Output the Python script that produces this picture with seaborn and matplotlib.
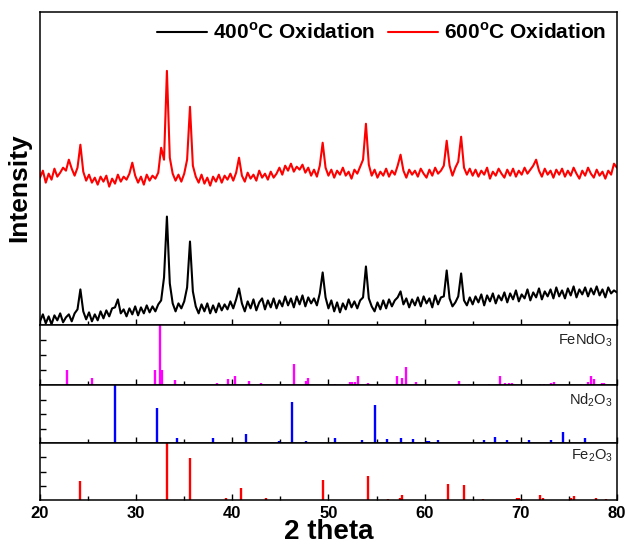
import numpy as np
import matplotlib
matplotlib.use('Agg')
import matplotlib.pyplot as plt
import seaborn as sns

# 2 theta grid of the scans, 20..80 in 0.3 deg steps
two_theta = np.round(np.arange(20, 80.01, 0.3), 2)

# 400C oxidation trace
int_400 = [4, 11, 2, 9, 1, 10, 5, 12, 3, 8,
           11, 4, 12, 16, 36, 14, 6, 13, 4, 11,
           5, 14, 7, 15, 9, 17, 18, 26, 12, 16,
           9, 17, 11, 19, 10, 18, 12, 20, 13, 19,
           14, 21, 25, 48, 109, 42, 22, 14, 22, 17,
           24, 38, 84, 34, 19, 12, 21, 14, 22, 12,
           20, 13, 22, 15, 21, 16, 24, 17, 26, 37,
           22, 14, 24, 17, 26, 15, 23, 27, 16, 25,
           18, 27, 17, 25, 19, 29, 20, 27, 18, 29,
           21, 30, 19, 28, 22, 27, 20, 32, 53, 28,
           17, 25, 14, 23, 13, 22, 16, 26, 18, 24,
           17, 25, 28, 59, 27, 19, 14, 23, 16, 25,
           17, 26, 19, 25, 28, 34, 21, 27, 18, 26,
           20, 28, 19, 29, 22, 27, 18, 30, 21, 28,
           29, 55, 27, 19, 23, 29, 52, 25, 20, 28,
           21, 29, 23, 31, 20, 30, 24, 32, 22, 30,
           25, 33, 23, 32, 26, 35, 24, 31, 27, 36,
           25, 33, 28, 37, 26, 34, 29, 36, 27, 38,
           29, 35, 27, 37, 30, 39, 28, 36, 31, 38,
           29, 37, 31, 39, 30, 36, 28, 38, 32, 35,
           33]

# 600C oxidation trace (already offset upwards like in the figure)
int_600 = [148, 155, 143, 152, 146, 157, 149, 153, 158, 155,
           166, 157, 150, 158, 181, 154, 145, 151, 143, 148,
           141, 149, 144, 150, 139, 147, 142, 151, 144, 149,
           146, 152, 163, 150, 143, 149, 141, 151, 145, 150,
           147, 153, 178, 166, 255, 168, 152, 145, 151, 144,
           152, 166, 219, 160, 149, 143, 151, 142, 148, 140,
           149, 144, 151, 143, 150, 146, 152, 145, 153, 168,
           150, 144, 153, 147, 151, 145, 155, 148, 152, 146,
           154, 148, 152, 158, 151, 160, 155, 162, 154, 159,
           156, 161, 153, 158, 150, 156, 149, 160, 183, 158,
           150, 156, 148, 155, 151, 158, 150, 154, 147, 156,
           152, 159, 166, 202, 161, 150, 156, 148, 154, 150,
           157, 149, 155, 151, 160, 171, 155, 148, 156, 151,
           155, 149, 157, 152, 148, 156, 150, 158, 152, 155,
           160, 185, 160, 150, 158, 164, 189, 158, 151, 157,
           150, 156, 149, 155, 151, 158, 147, 154, 150, 157,
           152, 148, 156, 150, 157, 149, 155, 151, 158, 152,
           156, 160, 166, 155, 149, 157, 151, 155, 148, 156,
           151, 157, 149, 155, 150, 158, 152, 147, 155, 150,
           158, 152, 148, 156, 150, 154, 147, 155, 151, 162,
           158]

# reference patterns (position, relative intensity)
fendo3_pos = [22.83, 25.45, 31.97, 32.45, 32.73, 34.0, 38.45, 39.6, 40.3, 41.7, 43.0,
              46.4, 47.7, 47.86, 50.7, 52.2, 52.5, 52.76, 53.1, 54.1, 57.17, 57.6, 58.1,
              59.07, 63.6, 64.66, 66.7, 67.8, 68.4, 68.8, 69.1, 72.0, 72.4, 73.2, 73.5,
              76.3, 76.97, 77.3, 77.6, 78.5, 78.7]
fendo3_int = [25, 12.6, 25, 100, 25, 8.8, 3, 10.5, 14.6, 7, 3,
              35.6, 7, 12.6, 1.5, 5, 5, 5, 14.6, 3, 16, 12.6, 31,
              5, 7, 1.5, 2, 14.6, 3, 3, 3, 2, 2, 3, 5,
              2, 5, 14.6, 10.5, 3, 3]

nd2o3_pos = [27.85, 32.2, 34.25, 37.98, 41.45, 44.85, 46.25, 47.7, 50.65, 53.45, 54.8,
             56.1, 57.5, 58.8, 60.2, 60.45, 61.4, 66.2, 67.35, 68.6, 70.9, 73.2, 74.4, 76.7]
nd2o3_int = [100, 61, 9, 9, 15, 4, 70.5, 4, 9, 5, 66,
             7, 9, 7, 3, 3, 5, 5, 10, 6, 5, 5, 19, 9.6]

fe2o3_pos = [24.15, 33.16, 35.65, 39.3, 40.9, 43.5, 49.48, 54.09, 56.2, 57.45, 57.6,
             62.48, 64.05, 66.1, 69.6, 69.8, 71.98, 72.36, 75.2, 75.56, 77.8, 78.85]
fe2o3_int = [33, 100, 73, 3, 20.6, 3, 36, 42, 2, 4, 9.4,
             27.6, 27, 2, 4, 3, 9.4, 3, 3, 6.5, 3, 2]

sns.set_style('ticks')
plt.rcParams['font.family'] = ['Liberation Sans', 'DejaVu Sans']
plt.rcParams['mathtext.fontset'] = 'custom'
plt.rcParams['mathtext.rm'] = 'Liberation Sans'
plt.rcParams['mathtext.bf'] = 'Liberation Sans:bold'
plt.rcParams['axes.linewidth'] = 1.1
for key in ['text.color', 'axes.labelcolor', 'axes.edgecolor', 'xtick.color', 'ytick.color']:
    plt.rcParams[key] = 'black'

fig = plt.figure(figsize=(6.25, 5.45), dpi=100)
gs = fig.add_gridspec(4, 1, height_ratios=[314, 60, 58, 57], hspace=0,
                      left=0.064, right=0.987, top=0.978, bottom=0.0826)
ax0 = fig.add_subplot(gs[0])
axs = [fig.add_subplot(gs[i], sharex=ax0) for i in range(1, 4)]

sns.lineplot(x=two_theta, y=int_400, ax=ax0, color='black', linewidth=1.5,
             estimator=None, label=r'400$^{\mathbf{o}}$C Oxidation')
sns.lineplot(x=two_theta, y=int_600, ax=ax0, color='#ff0000', linewidth=1.5,
             estimator=None, label=r'600$^{\mathbf{o}}$C Oxidation')
ax0.set_ylim(0, 314)
ax0.set_yticks([])
ax0.set_ylabel('Intensity', fontsize=19, fontweight='bold')
ax0.yaxis.set_label_coords(-0.016, 0.44)
leg = ax0.legend(loc='upper right', ncol=2, frameon=False, handlelength=2.4,
                 handletextpad=0.3, columnspacing=0.6, borderaxespad=0.1,
                 bbox_to_anchor=(1.0, 1.0), prop={'size': 15, 'weight': 'bold'})
for h in leg.get_lines():
    h.set_linewidth(1.5)

refs = [(fendo3_pos, fendo3_int, '#ff00ff', r'FeNdO$_3$', 0.76),
        (nd2o3_pos, nd2o3_int, '#0000ff', r'Nd$_2$O$_3$', 0.75),
        (fe2o3_pos, fe2o3_int, '#ff0000', r'Fe$_2$O$_3$', 0.78)]
for ax, (pos, inten, col, name, ty) in zip(axs, refs):
    ax.vlines(pos, 0, inten, color=col, linewidth=1.7)
    ax.set_ylim(0, 100)
    ax.set_yticks([25, 50, 75])
    ax.set_yticklabels([])
    ax.text(0.993, ty, name, transform=ax.transAxes, ha='right', va='center',
            fontsize=10.5, color='#222222')

for ax in [ax0] + axs:
    ax.set_xlim(20, 80)
    ax.set_xticks(range(20, 81, 10))
    ax.set_xticks(range(25, 80, 10), minor=True)
    ax.tick_params(axis='both', which='major', direction='in', length=4, width=1)
    ax.tick_params(axis='both', which='minor', direction='in', length=3, width=1)
    ax.tick_params(axis='x', labelbottom=False)
    ax.set_xlabel('')

axs[-1].tick_params(axis='x', labelbottom=True, labelsize=12, pad=4)
for lab in axs[-1].get_xticklabels():
    lab.set_fontweight('bold')
axs[-1].set_xlabel('2 theta', fontsize=20, fontweight='bold', labelpad=-1)

fig.savefig('out.png', dpi=100)
